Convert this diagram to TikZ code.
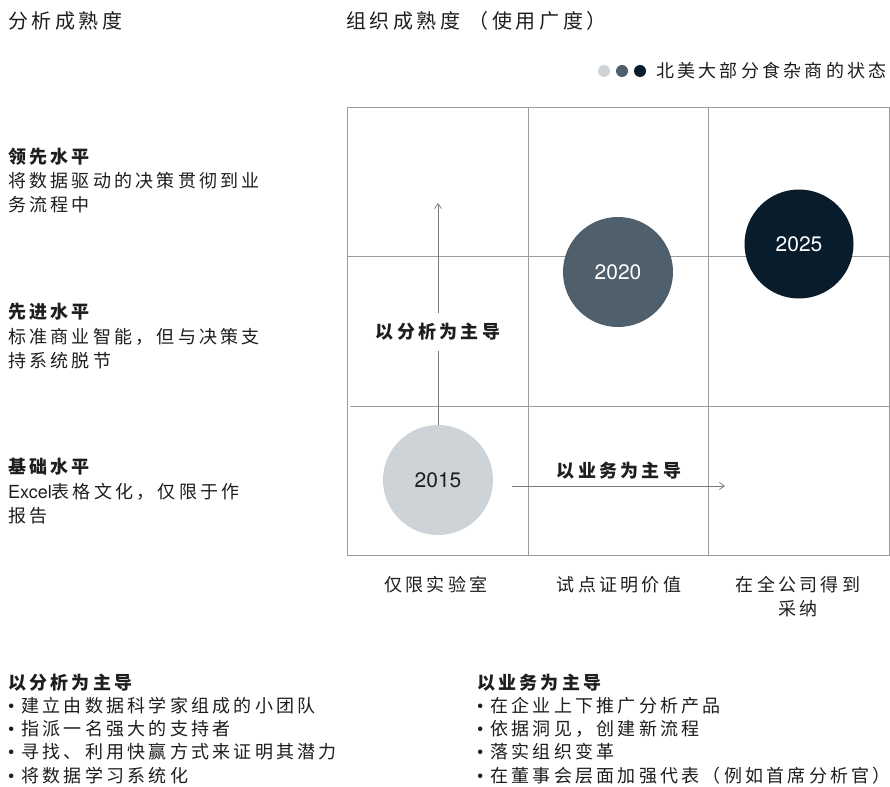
\documentclass[tikz,border=0pt]{standalone}
\usepackage{fontspec}
\setmainfont{Noto Sans CJK SC}[LetterSpace=18]
\newfontfamily\lat{TeX Gyre Heros}
\usetikzlibrary{arrows.meta}
\definecolor{ink}{HTML}{1E1E1E}
\definecolor{gridc}{HTML}{9C9C9C}
\definecolor{arrc}{HTML}{7A7A7A}
\definecolor{c15}{HTML}{CDD3D6}
\definecolor{c20}{HTML}{4F5F6B}
\definecolor{c25}{HTML}{081C2C}
\tikzset{
  txt/.style={inner sep=0, anchor=west, text=ink, font=\fontsize{18}{22}\selectfont},
  btxt/.style={inner sep=0, anchor=west, text=ink, font=\fontsize{18}{22}\selectfont\bfseries},
  ttl/.style={inner sep=0, anchor=west, text=ink, font=\fontsize{20}{24}\selectfont},
  ctxt/.style={inner sep=0, text=ink, font=\fontsize{18}{22}\selectfont},
  lbl/.style={inner sep=0, text=ink, font=\fontsize{18}{22}\selectfont\bfseries},
  gridline/.style={draw=gridc, line width=0.8pt},
  arr/.style={draw=arrc, line width=0.7pt, -{Straight Barb[length=5pt,width=7pt]}},
  yr/.style={circle, minimum size=110pt, inner sep=0, font=\lat\fontsize{21}{24}\selectfont},
  dot/.style={circle, minimum size=12pt, inner sep=0}
}
\newcommand{\bul}{{\lat •}\hspace{7pt}}
\begin{document}
\begin{tikzpicture}[x=1pt,y=-1pt]
\useasboundingbox[fill=white] (0,0) rectangle (890,786);
% titles
\node[ttl] (t1) at (8,21) {分析成熟度};
\node[ttl] (t2) at (346,21) {组织成熟度 （使用广度）};
% legend
\node[dot, fill=c15] (d1) at (604,71) {};
\node[dot, fill=c20] (d2) at (622,71) {};
\node[dot, fill=c25] (d3) at (640,71) {};
\node[txt] (leg) at (656,71) {北美大部分食杂商的状态};
% grid
\draw[gridline] (347,107) rectangle (889,555);
\draw[gridline] (528,107) -- (528,555);
\draw[gridline] (708,107) -- (708,555);
\draw[gridline] (347,256) -- (889,256);
\draw[gridline] (350,406) -- (889,406);
% left labels
\node[btxt] (l1a) at (8,157) {领先水平};
\node[txt] (l1b) at (8,181) {将数据驱动的决策贯彻到业};
\node[txt] (l1c) at (8,205) {务流程中};
\node[btxt] (l2a) at (8,312) {先进水平};
\node[txt] (l2b) at (8,337) {标准商业智能，但与决策支};
\node[txt] (l2c) at (8,361) {持系统脱节};
\node[btxt] (l3a) at (8,467) {基础水平};
\node[txt] (l3b) at (8,492) {{\lat Excel}表格文化，仅限于作};
\node[txt] (l3c) at (8,516) {报告};
% circles
\node[yr, fill=c15, text=ink] (c15) at (438,480) {2015};
\node[yr, fill=c20, text=white] (c20) at (618,272) {2020};
\node[yr, fill=c25, text=white, minimum size=109pt] (c25) at (799,244) {2025};
% arrows
\coordinate (vtop) at (438,203);
\draw[arr] (c15.north) -- (vtop);
\node[lbl, fill=white, inner ysep=10pt, inner xsep=2pt] (la) at (438,332) {以分析为主导};
\coordinate (hs) at (512,486);
\coordinate (he) at (725,486);
\draw[arr] (hs) -- (he);
\node[lbl] (lb) at (619,471) {以业务为主导};
% axis labels
\node[ctxt] (x1) at (436,585) {仅限实验室};
\node[ctxt] (x2) at (619,585) {试点证明价值};
\node[ctxt] (x3) at (798,585) {在全公司得到};
\node[ctxt] (x3b) at (798,609) {采纳};
% bottom lists
\node[btxt] (a0) at (8,683) {以分析为主导};
\node[txt] (a1) at (8,706) {\bul 建立由数据科学家组成的小团队};
\node[txt] (a2) at (8,729) {\bul 指派一名强大的支持者};
\node[txt] (a3) at (8,752) {\bul 寻找、利用快赢方式来证明其潜力};
\node[txt] (a4) at (8,776) {\bul 将数据学习系统化};
\node[btxt] (b0) at (477,683) {以业务为主导};
\node[txt] (b1) at (477,706) {\bul 在企业上下推广分析产品};
\node[txt] (b2) at (477,729) {\bul 依据洞见，创建新流程};
\node[txt] (b3) at (477,752) {\bul 落实组织变革};
\node[txt] (b4) at (477,776) {\bul 在董事会层面加强代表（例如首席分析官）};
\end{tikzpicture}
\end{document}
